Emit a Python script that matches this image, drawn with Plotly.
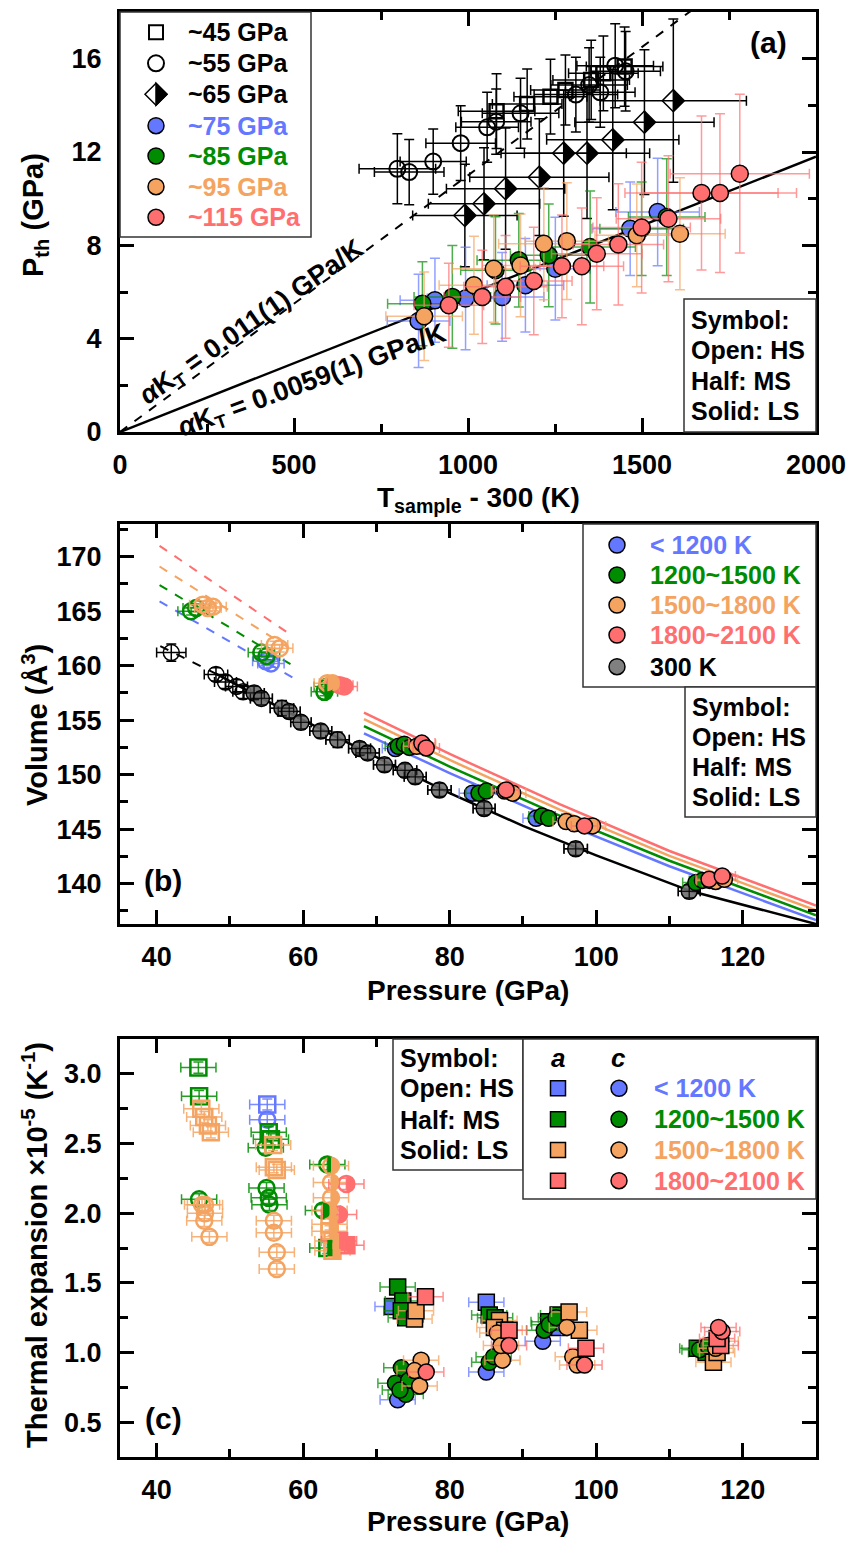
import plotly.graph_objects as go

W, H = 852, 1543
FONT = "Liberation Sans, Arial, Helvetica, sans-serif"

BLUE, GREEN, ORANGE, RED, GRAY = "#6478FF", "#008C00", "#F4A460", "#FF6F6F", "#808080"


def rgba(c, a):
    c = c.lstrip("#")
    return f"rgba({int(c[0:2], 16)},{int(c[2:4], 16)},{int(c[4:6], 16)},{a})"


# ---------------- panel (a): thermal pressure vs. heating ----------------
t45 = [1082, 1170, 1237, 1280, 1354, 1389, 1450]
p45 = [13.75, 14.06, 14.37, 14.66, 15.09, 15.37, 15.66]
t45_err = [110, 100, 105, 100, 110, 100, 110]
p45_err = [1.6, 1.5, 1.6, 1.5, 1.7, 1.6, 1.7]

t55 = [797, 831, 900, 979, 1055, 1081, 1151, 1310, 1348, 1380, 1423, 1453]
p55 = [11.28, 11.14, 11.59, 12.38, 13.06, 13.30, 13.66, 14.46, 14.87, 14.56, 15.70, 15.46]
t55_err = [110, 100, 95, 100, 90, 100, 110, 120, 110, 100, 110, 100]
p55_err = [1.5, 1.4, 1.4, 1.6, 1.5, 1.4, 1.5, 1.6, 1.6, 1.5, 1.8, 1.7]

t65 = [991, 1046, 1108, 1205, 1275, 1342, 1416, 1507, 1590]
p65 = [9.28, 9.78, 10.43, 10.92, 11.95, 11.95, 12.52, 13.28, 14.20]
t65_err = [150, 160, 170, 200, 180, 180, 190, 200, 210]
p65_err = [2.2, 2.4, 2.6, 2.5, 2.7, 2.8, 3.0, 3.1, 3.5]

t75 = [858, 905, 993, 1098, 1165, 1251, 1466, 1545]
p75 = [4.76, 5.65, 5.72, 5.79, 6.29, 7.00, 8.71, 9.43]
t75_err = [90, 100, 110, 120, 110, 100, 110, 120]
p75_err = [2.0, 1.8, 2.2, 1.9, 2.0, 2.2, 2.0, 2.3]

t85 = [869, 955, 1079, 1146, 1232, 1351, 1499, 1571]
p85 = [5.50, 5.79, 6.93, 7.36, 7.57, 7.93, 8.71, 9.21]
t85_err = [100, 110, 100, 120, 110, 130, 120, 110]
p85_err = [1.8, 2.2, 2.3, 2.0, 2.2, 2.4, 2.0, 2.5]

t95 = [874, 1017, 1074, 1151, 1218, 1284, 1485, 1609]
p95 = [4.96, 6.29, 7.00, 7.14, 8.07, 8.18, 8.43, 8.50]
t95_err = [110, 100, 120, 110, 130, 120, 120, 130]
p95_err = [1.9, 2.1, 2.3, 2.2, 2.4, 2.5, 2.2, 2.4]

t115 = [945, 1041, 1108, 1189, 1270, 1327, 1370, 1432, 1499, 1576, 1671, 1724, 1781]
p115 = [5.43, 5.79, 6.22, 6.47, 7.10, 7.10, 7.64, 8.04, 8.76, 9.14, 10.24, 10.24, 11.07]
t115_err = [100, 110, 120, 110, 120, 120, 130, 130, 140, 150, 220, 220, 200]
p115_err = [1.8, 2.0, 2.2, 2.3, 2.2, 2.5, 2.4, 2.6, 2.8, 2.7, 3.3, 3.4, 3.4]

# alpha*K_T slopes (GPa/K) of the two linear trends
slope_hs = 0.011
slope_ls = 0.0059
t_line = [0, 2000]

# ---------------- panel (b): volume vs. pressure ----------------
p300 = [42.0, 48.1, 49.4, 50.9, 51.8, 53.3, 54.3, 57.1, 58.1, 59.7, 62.4, 64.7,
        67.7, 68.8, 71.1, 73.9, 75.3, 78.6, 84.7, 97.2, 112.7]
v300 = [161.2, 159.2, 158.5, 158.1, 157.6, 157.5, 157.0, 156.1, 155.8, 154.8, 154.0, 153.2,
        152.4, 152.0, 150.9, 150.4, 149.8, 148.6, 146.9, 143.2, 139.3]
p300_err = [2.0, 1.6, 1.5, 1.5, 1.4, 1.4, 1.5, 1.6, 1.5, 1.4, 1.5, 1.6,
            1.5, 1.6, 1.5, 1.6, 1.5, 1.6, 1.5, 1.6, 1.5]
v300_err = [0.8, 0.6, 0.6, 0.6, 0.6, 0.6, 0.6, 0.7, 0.6, 0.6, 0.6, 0.7,
            0.6, 0.6, 0.6, 0.6, 0.6, 0.6, 0.6, 0.6, 0.6]
n300_hs = 5  # first points are high-spin (open symbols)

b_blue_hs = ([54.9, 55.6], [160.4, 160.2])
b_blue_ls = ([72.6, 83.1, 91.8], [152.4, 148.3, 146.0])
b_green_hs = ([44.7, 45.4, 54.3, 55.0], [165.0, 165.3, 161.2, 160.9])
b_green_ms = ([62.9, 63.3], [157.6, 158.1])
b_green_ls = ([73.0, 73.8, 74.5, 84.0, 85.0, 92.6, 93.5, 113.6, 114.5],
              [152.6, 152.8, 152.5, 148.3, 148.5, 146.2, 146.0, 140.1, 140.3])
b_orange_hs = ([46.3, 47.0, 47.7, 56.1, 56.8], [165.6, 165.3, 165.4, 161.9, 161.6])
b_orange_ms = ([63.3, 64.0], [158.4, 158.4])
b_orange_ls = ([75.5, 76.3, 87.5, 88.6, 95.9, 97.0, 99.5, 115.5, 116.3, 117.5],
               [152.6, 152.8, 148.5, 148.3, 145.7, 145.5, 145.3, 140.3, 140.2, 140.4])
b_red_ms = ([65.0, 65.6], [158.2, 158.1])
b_red_ls = ([76.2, 76.8, 87.7, 98.4, 115.4, 117.2], [152.9, 152.45, 148.6, 145.3, 140.4, 140.7])

# equation-of-state curves
eos_hs_p = [40.4, 58.6]
eos_hs_v = {"blue": [165.9, 158.9], "green": [167.4, 160.0],
            "orange": [169.1, 161.4], "red": [171.0, 162.7]}
eos_ls_p = [68.3, 80, 95, 110, 130]
eos_ls_v = {"blue": [153.8, 150.15, 145.7, 141.6, 136.65],
            "green": [154.45, 150.75, 146.25, 142.1, 137.1],
            "orange": [155.1, 151.35, 146.8, 142.55, 137.55],
            "red": [155.7, 151.9, 147.3, 143.0, 138.0]}
eos300_dash_p = [40.5, 48.0]
eos300_dash_v = [161.8, 159.3]
eos300_p = [48.0, 60, 70, 80, 90, 100, 113, 130]
eos300_v = [159.3, 155.0, 151.6, 148.3, 145.3, 142.6, 139.3, 136.3]

# ---------------- panel (c): thermal expansion ----------------
c_data = {
    # colour: {(axis, spin): (P, alpha)}
    "blue": {
        ("a", "HS"): ([55.1], [2.78]),
        ("c", "HS"): ([55.1], [2.67]),
        ("a", "LS"): ([72.2, 85.0, 95.0], [1.33, 1.36, 1.18]),
        ("c", "LS"): ([72.9, 85.0, 92.7], [0.66, 0.86, 1.08]),
    },
    "green": {
        ("a", "HS"): ([45.7, 45.8, 55.3, 55.6], [3.045, 2.84, 2.58, 2.53]),
        ("c", "HS"): ([45.8, 54.9, 55.0, 55.3, 55.4], [2.10, 2.47, 2.18, 2.11, 2.06]),
        ("c", "MS"): ([63.3, 62.7], [2.35, 2.02]),
        ("a", "MS"): ([63.3], [1.75]),
        ("a", "LS"): ([72.9, 73.6, 74.0, 73.4, 85.4, 86.2, 93.5, 94.8, 113.8, 115.0],
                      [1.47, 1.37, 1.25, 1.30, 1.27, 1.25, 1.22, 1.27, 1.03, 1.00]),
        ("c", "LS"): ([72.6, 73.4, 74.0, 74.4, 73.2, 85.4, 86.0, 92.9, 93.6, 94.5, 114.1, 115.2],
                      [0.78, 0.89, 0.70, 0.80, 0.73, 0.93, 0.97, 1.16, 1.20, 1.25, 1.02, 1.05]),
    },
    "orange": {
        ("a", "HS"): ([46.1, 46.5, 47.0, 47.4, 55.9, 56.0, 56.4],
                      [2.75, 2.69, 2.63, 2.58, 2.49, 2.33, 2.31]),
        ("c", "HS"): ([46.2, 46.6, 46.6, 46.5, 47.2, 56.0, 56.0, 56.4, 56.4],
                      [2.06, 2.06, 2.00, 1.945, 1.83, 1.945, 1.86, 1.72, 1.60]),
        ("c", "MS"): ([63.8, 63.8, 63.8, 63.6], [2.34, 2.22, 2.11, 2.02]),
        ("a", "MS"): ([63.6, 63.6, 64.0, 64.0], [1.92, 1.87, 1.80, 1.73]),
        ("a", "LS"): ([75.2, 75.4, 86.8, 86.1, 87.5, 96.3, 97.7, 116.0, 116.5],
                      [1.24, 1.30, 1.23, 1.18, 1.16, 1.29, 1.16, 0.93, 1.00]),
        ("c", "LS"): ([76.1, 75.9, 75.2, 87.2, 86.5, 87.0, 96.8, 97.4, 96.0, 116.3, 117.0],
                      [0.945, 0.76, 0.87, 0.945, 1.14, 1.05, 0.97, 0.91, 1.18, 1.03, 1.08]),
    },
    "red": {
        ("c", "MS"): ([65.9, 64.9], [2.21, 1.99]),
        ("a", "MS"): ([64.9, 65.9], [1.80, 1.77]),
        ("a", "LS"): ([76.7, 88.1, 98.6, 117.0, 116.5], [1.40, 1.16, 1.03, 1.05, 1.10]),
        ("c", "LS"): ([76.8, 88.1, 98.4, 117.2, 116.7], [0.86, 1.05, 0.91, 1.15, 1.18]),
    },
}
c_p_err = 2.4
c_a_err = 0.04

COLORS = {"blue": BLUE, "green": GREEN, "orange": ORANGE, "red": RED}

# ---------------- layout geometry (pixels) ----------------
PL, PR = 120, 816
A_TOP, A_BOT = 12, 432
B_TOP, B_BOT = 524, 924
C_TOP, C_BOT = 1039, 1457


def ydom(top, bot):
    return [1 - bot / H, 1 - top / H]


XDOM = [PL / W, PR / W]

fig = go.Figure()
shapes = []
annotations = []


def scatter(x, y, ex, ey, xa, ya, symbol, fill, line_color, size, bar_color, lw=1.5, cap=5):
    fig.add_trace(go.Scatter(
        x=x, y=y, xaxis=xa, yaxis=ya, mode="markers",
        marker=dict(symbol=symbol, size=size, color=fill, line=dict(color=line_color, width=lw)),
        error_x=dict(type="data", array=ex, color=bar_color, thickness=1.5, width=cap),
        error_y=dict(type="data", array=ey, color=bar_color, thickness=1.5, width=cap),
        showlegend=False, hoverinfo="skip"))


def bars_only(x, y, ex, ey, xa, ya, bar_color, cap=5):
    # error crosses drawn over previously plotted markers
    fig.add_trace(go.Scatter(
        x=x, y=y, xaxis=xa, yaxis=ya, mode="markers",
        marker=dict(size=1, color="rgba(0,0,0,0)"),
        error_x=dict(type="data", array=ex, color=bar_color, thickness=1.3, width=cap),
        error_y=dict(type="data", array=ey, color=bar_color, thickness=1.3, width=cap),
        showlegend=False, hoverinfo="skip"))


def line(x, y, xa, ya, color, width, dash="solid"):
    fig.add_trace(go.Scatter(x=x, y=y, xaxis=xa, yaxis=ya, mode="lines",
                             line=dict(color=color, width=width, dash=dash),
                             showlegend=False, hoverinfo="skip"))


def half_path(kind, r):
    if kind == "diamond":
        return f"M0,{-r} L{r},0 L0,{r} Z"
    if kind == "square":
        return f"M0,{-r} L{r},{-r} L{r},{r} L0,{r} Z"
    k = round(0.5523 * r, 2)
    return f"M0,{-r} C{k},{-r} {r},{-k} {r},0 C{r},{k} {k},{r} 0,{r} Z"


def half_fill(xs, ys, xref, yref, kind, r, color):
    for x, y in zip(xs, ys):
        shapes.append(dict(type="path", xref=xref, yref=yref, xsizemode="pixel", ysizemode="pixel",
                           xanchor=x, yanchor=y, path=half_path(kind, r),
                           fillcolor=color, line=dict(width=0), layer="above"))


def ann(px, py, text, size, color="black", xanchor="center", angle=0, style="normal"):
    annotations.append(dict(x=px / W, y=1 - py / H, xref="paper", yref="paper", text=text,
                            showarrow=False, xanchor=xanchor, yanchor="middle", textangle=angle,
                            font=dict(family=FONT, size=size, color=color, weight="bold", style=style)))


def box(x0, y0, x1, y1):
    shapes.append(dict(type="rect", xref="paper", yref="paper", x0=x0 / W, x1=x1 / W,
                       y0=1 - y1 / H, y1=1 - y0 / H, fillcolor="white",
                       line=dict(color="#333333", width=1.5), layer="above"))


def key(px, py, kind, r, fill, edge, lw=1.5):
    common = dict(xref="paper", yref="paper", xsizemode="pixel", ysizemode="pixel",
                  xanchor=px / W, yanchor=1 - py / H, layer="above")
    if kind == "circle":
        shapes.append(dict(type="circle", x0=-r, x1=r, y0=-r, y1=r, fillcolor=fill,
                           line=dict(color=edge, width=lw), **common))
    elif kind == "square":
        shapes.append(dict(type="rect", x0=-r, x1=r, y0=-r, y1=r, fillcolor=fill,
                           line=dict(color=edge, width=lw), **common))
    elif kind == "halfdiamond":
        shapes.append(dict(type="path", path=f"M{r},0 L0,{r} L{-r},0 L0,{-r} Z", fillcolor="white",
                           line=dict(color=edge, width=lw), **common))
        shapes.append(dict(type="path", path=half_path("diamond", r), fillcolor=edge,
                           line=dict(color=edge, width=lw), **common))


# ---------------- panel (a) traces ----------------
line(t_line, [slope_hs * t for t in t_line], "x", "y", "black", 2, "dash")
line(t_line, [slope_ls * t for t in t_line], "x", "y", "black", 2.5)

scatter(t65, p65, t65_err, p65_err, "x", "y", "diamond-open", "black", "black", 17, "black", lw=1.5)
half_fill(t65, p65, "x", "y", "diamond", 11, "black")
scatter(t55, p55, t55_err, p55_err, "x", "y", "circle-open", "black", "black", 16, "black", lw=2)
scatter(t45, p45, t45_err, p45_err, "x", "y", "square-open", "black", "black", 14, "black", lw=2.5)

for tx, py_, ex, ey, col in [(t75, p75, t75_err, p75_err, BLUE), (t85, p85, t85_err, p85_err, GREEN),
                             (t95, p95, t95_err, p95_err, ORANGE), (t115, p115, t115_err, p115_err, RED)]:
    scatter(tx, py_, ex, ey, "x", "y", "circle", col, "black", 17, rgba(col, 0.7))

# ---------------- panel (b) traces ----------------
for name in ["blue", "green", "orange", "red"]:
    line(eos_hs_p, eos_hs_v[name], "x2", "y2", COLORS[name], 2, "dash")
    line(eos_ls_p, eos_ls_v[name], "x2", "y2", COLORS[name], 2.5)
line(eos300_dash_p, eos300_dash_v, "x2", "y2", "black", 2, "dash")
line(eos300_p, eos300_v, "x2", "y2", "black", 2.5, "solid")

scatter(p300[:n300_hs], v300[:n300_hs], p300_err[:n300_hs], v300_err[:n300_hs], "x2", "y2",
        "circle-open", "black", "black", 16, "black", lw=1.5)
scatter(p300[n300_hs:], v300[n300_hs:], p300_err[n300_hs:], v300_err[n300_hs:], "x2", "y2",
        "circle", "rgba(110,110,110,0.9)", "black", 16, "black", lw=1.5)
bars_only(p300[n300_hs:], v300[n300_hs:], p300_err[n300_hs:], v300_err[n300_hs:], "x2", "y2",
          "rgba(0,0,0,0.8)")

b_sets = [
    ("blue", "HS", b_blue_hs), ("green", "HS", b_green_hs), ("orange", "HS", b_orange_hs),
    ("green", "MS", b_green_ms), ("orange", "MS", b_orange_ms), ("red", "MS", b_red_ms),
    ("blue", "LS", b_blue_ls), ("green", "LS", b_green_ls), ("orange", "LS", b_orange_ls),
    ("red", "LS", b_red_ls),
]
for name, spin, (pp, vv) in b_sets:
    col = COLORS[name]
    ex = [1.8] * len(pp)
    ey = [0.35] * len(pp)
    if spin == "LS":
        scatter(pp, vv, ex, ey, "x2", "y2", "circle", col, "black", 16, rgba(col, 0.75))
    else:
        scatter(pp, vv, ex, ey, "x2", "y2", "circle-open", col, col, 16, rgba(col, 0.85), lw=2.5)
        if spin == "MS":
            half_fill(pp, vv, "x2", "y2", "circle", 8, col)

# ---------------- panel (c) traces ----------------
for spin in ["HS", "MS", "LS"]:
    for name in ["blue", "green", "orange", "red"]:
        col = COLORS[name]
        for ax in ["a", "c"]:
            if (ax, spin) not in c_data[name]:
                continue
            pp, aa = c_data[name][(ax, spin)]
            ex = [c_p_err] * len(pp)
            ey = [c_a_err] * len(pp)
            base = "square" if ax == "a" else "circle"
            size = 16
            if spin == "LS":
                scatter(pp, aa, ex, ey, "x3", "y3", base, col, "black", size, rgba(col, 0.75))
            else:
                scatter(pp, aa, ex, ey, "x3", "y3", base + "-open", col, col, size, rgba(col, 0.85), lw=2.5)
                if spin == "MS":
                    half_fill(pp, aa, "x3", "y3", base, 8, col)

# ---------------- legends and labels ----------------
# panel (a)
box(PL, A_TOP, 311, 237)
a_rows = [32.3, 63.3, 94.3, 125.7, 156, 186.7, 217.3]
a_labels = ["~45 GPa", "~55 GPa", "~65 GPa", "~75 GPa", "~85 GPa", "~95 GPa", "~115 GPa"]
a_text_colors = ["black", "black", "black", BLUE, GREEN, ORANGE, RED]
key(156, a_rows[0], "square", 7, "white", "black", 2)
key(156, a_rows[1], "circle", 8, "white", "black", 2)
key(156, a_rows[2], "halfdiamond", 11, "white", "black", 1.5)
for yy, col in zip(a_rows[3:], [BLUE, GREEN, ORANGE, RED]):
    key(156, yy, "circle", 8, col, "black", 1.5)
for yy, lab, col in zip(a_rows, a_labels, a_text_colors):
    ann(186, yy, lab, 25, col, "left")

symbol_lines = ["Symbol:", "Open: HS", "Half: MS", "Solid: LS"]
box(684, 299, PR, A_BOT)
for yy, lab in zip([320, 350, 381, 411], symbol_lines):
    ann(689, yy, lab, 25, "black", "left")
ann(768, 43, "(a)", 30)
ann(381 / 2000 * (PR - PL) + PL, A_BOT - 4.67 / 18 * (A_BOT - A_TOP),
    "<i>α</i>K<sub>T</sub> = 0.011(1) GPa/K", 27, angle=-35)
ann(552 / 2000 * (PR - PL) + PL, A_BOT - 2.16 / 18 * (A_BOT - A_TOP),
    "<i>α</i>K<sub>T</sub> = 0.0059(1) GPa/K", 27, angle=-20)

# panel (b)
box(583, B_TOP, PR, 687)
b_rows = [545, 575, 605, 635, 666.7]
b_labels = ["< 1200 K", "1200~1500 K", "1500~1800 K", "1800~2100 K", "300 K"]
b_cols = [BLUE, GREEN, ORANGE, RED, GRAY]
b_text_cols = [BLUE, GREEN, ORANGE, RED, "black"]
for yy, lab, col, tcol in zip(b_rows, b_labels, b_cols, b_text_cols):
    key(617, yy, "circle", 8, col, "black", 1.5)
    ann(648, yy, lab, 25, tcol, "left")
box(685, 687, PR, 817)
for yy, lab in zip([706.7, 736.7, 766.7, 796.7], symbol_lines):
    ann(690, yy, lab, 25, "black", "left")
ann(163, 880, "(b)", 30)

# panel (c)
box(393, C_TOP, 523, 1170)
for yy, lab in zip([1058, 1088, 1120, 1150], symbol_lines):
    ann(398, yy, lab, 25, "black", "left")
box(523, C_TOP, PR, 1199)
ann(558, 1058, "a", 26, style="italic")
ann(618, 1058, "c", 26, style="italic")
c_rows = [1088.3, 1119.3, 1150, 1180.7]
for yy, lab, col in zip(c_rows, b_labels[:4], b_cols[:4]):
    key(558, yy, "square", 7.5, col, "black", 1.5)
    key(619, yy, "circle", 8, col, "black", 1.5)
    ann(652, yy, lab, 25, col, "left")
ann(163, 1418, "(c)", 30)

# axis titles
ann(35, 215, "P<sub>th</sub> (GPa)", 29, angle=-90)
ann(478, 499, "T<sub>sample</sub> - 300 (K)", 28)
ann(35, 725, "Volume (Å<sup>3</sup>)", 29, angle=-90)
ann(468, 990, "Pressure (GPa)", 28)
ann(35, 1245, "Thermal expansion ×10<sup>-5</sup> (K<sup>-1</sup>)", 29, angle=-90)
ann(468, 1521, "Pressure (GPa)", 28)


def axis(rng, dtick, minor_dtick, dom, anchor, fmt=None, standoff=12):
    d = dict(range=rng, domain=dom, anchor=anchor, dtick=dtick, tick0=0, automargin=False,
             ticks="inside", ticklen=14, tickwidth=2.5, tickcolor="black",
             showline=True, linewidth=3, linecolor="black", mirror="allticks",
             showgrid=False, zeroline=False, ticklabelstandoff=standoff,
             tickfont=dict(family=FONT, size=27, color="black", weight="bold"),
             minor=dict(dtick=minor_dtick, tick0=0, ticks="inside", ticklen=8, tickwidth=2.5,
                        tickcolor="black", showgrid=False))
    if fmt:
        d["tickformat"] = fmt
    return d


fig.update_layout(
    template="none",
    width=W, height=H, autosize=False,
    margin=dict(l=0, r=0, t=0, b=0, pad=0),
    paper_bgcolor="white", plot_bgcolor="white", showlegend=False,
    font=dict(family=FONT, color="black"),
    xaxis=axis([0, 2000], 500, 250, XDOM, "y", standoff=7),
    yaxis=axis([0, 18], 4, 2, ydom(A_TOP, A_BOT), "x", standoff=10),
    xaxis2=axis([35, 130], 20, 10, XDOM, "y2", standoff=7),
    yaxis2=axis([136.3, 173], 5, 2.5, ydom(B_TOP, B_BOT), "x2", standoff=10),
    xaxis3=axis([35, 130], 20, 10, XDOM, "y3", standoff=7),
    yaxis3=axis([0.25, 3.25], 0.5, 0.25, ydom(C_TOP, C_BOT), "x3", fmt=".1f", standoff=10),
    shapes=shapes, annotations=annotations,
)

fig.write_html("out.html")
